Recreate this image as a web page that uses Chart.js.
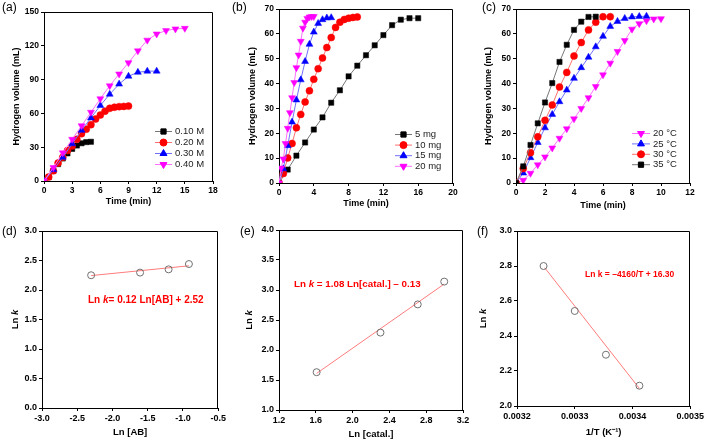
<!DOCTYPE html>
<html>
<head>
<meta charset="utf-8">
<script src="https://cdn.jsdelivr.net/npm/chart.js@4.4.1/dist/chart.umd.min.js"></script>
<style>
  body { margin: 0; background: #fff; }
  #fig { position: relative; width: 706px; height: 442px; overflow: hidden; }
  #fig canvas { position: absolute; }
</style>
</head>
<body>
<div id="fig">
  <canvas id="ca" width="228" height="212" style="left:0;top:0"></canvas>
  <canvas id="cb" width="232" height="212" style="left:230px;top:0"></canvas>
  <canvas id="cc" width="244" height="212" style="left:462px;top:0"></canvas>
  <canvas id="cd" width="228" height="227" style="left:0;top:215px"></canvas>
  <canvas id="ce" width="242" height="227" style="left:230px;top:215px"></canvas>
  <canvas id="cf" width="244" height="227" style="left:462px;top:215px"></canvas>
</div>
<script>
// (a) effect of AB concentration
const timeA1 = [0, 0.5, 1, 1.5, 2, 2.5, 3, 3.5, 4, 4.5, 5];
const volA1 = [0, 3.5, 9, 15, 20, 24.5, 28.5, 31.5, 33.5, 34.5, 34.8];
const timeA2 = [0, 0.5, 1, 1.5, 2, 2.5, 3, 3.5, 4, 4.5, 5, 5.5, 6, 6.5, 7, 7.5, 8, 8.5, 9];
const volA2 = [0, 3.5, 9, 16, 21, 27, 31, 37, 42, 46, 50, 55, 58.5, 62, 64.5, 65.5, 66, 66.2, 66.5];
const timeA3 = [0, 1, 2, 3, 4, 5, 6, 7, 8, 9, 10, 11, 12];
const volA3 = [0, 10, 21, 33, 45, 56, 67, 77, 86, 93, 96.5, 97.5, 97.5];
const timeA4 = [0, 1, 2, 3, 4, 5, 6, 7, 8, 9, 10, 11, 12, 13, 14, 15];
const volA4 = [0, 12, 25, 37, 49, 61, 73, 84.5, 95, 105, 115.5, 125, 130.5, 133.5, 135, 135.5];
const labelsA = ['0.10 M', '0.20 M', '0.30 M', '0.40 M'];

// (b) effect of catalyst amount
const timeB1 = [0, 1, 2, 3, 4, 5, 6, 7, 8, 9, 10, 11, 12, 13, 14, 15, 16];
const volB1 = [0, 5.4, 11, 16.3, 21.5, 26.4, 32.3, 37.3, 42.9, 47.2, 51.4, 55.4, 59.5, 63.5, 65.7, 66.3, 66.3];
const timeB2 = [0, 0.5, 1, 1.5, 2, 2.5, 3, 3.5, 4, 4.5, 5, 5.5, 6, 6.5, 7, 7.5, 8, 8.5, 9];
const volB2 = [0, 3.8, 10.1, 15.9, 22.2, 27.6, 32.6, 37.1, 41.7, 46, 50.3, 54.5, 58.5, 62.6, 64.7, 65.8, 66.3, 66.6, 66.8];
const timeB3 = [0, 0.5, 1, 1.5, 2, 2.5, 3, 3.5, 4, 4.5, 5, 5.5, 6];
const volB3 = [0, 5.7, 15, 24.5, 33.4, 41.5, 48.9, 55.8, 60.7, 64.2, 65.7, 66.4, 66.5];
const timeB4 = [0, 0.25, 0.5, 0.75, 1, 1.25, 1.5, 1.75, 2, 2.25, 2.5, 2.75, 3, 3.25, 3.5, 3.75, 4];
const volB4 = [0, 6, 9.7, 15.9, 22, 28.3, 34.3, 40.4, 46.4, 51.5, 57, 62.3, 64.7, 66.2, 66.8, 67, 67];
const labelsB = ['5 mg', '10 mg', '15 mg', '20 mg'];

// (c) effect of temperature
const timeC1 = [0, 0.5, 1, 1.5, 2, 2.5, 3, 3.5, 4, 4.5, 5, 5.5, 6, 6.5, 7, 7.5, 8, 8.5, 9, 9.5, 10];
const volC1 = [0, 1.1, 3.9, 7.3, 10.5, 14.1, 18, 21.8, 25.8, 30, 34.3, 38.8, 43.5, 48.2, 52.9, 57.3, 61.9, 64.1, 65.3, 66, 66.1];
const timeC2 = [0, 0.5, 1, 1.5, 2, 2.5, 3, 3.5, 4, 4.5, 5, 5.5, 6, 6.5, 7, 7.5, 8, 8.5, 9];
const volC2 = [0, 4, 10.2, 16.3, 22.2, 27.6, 32.7, 37.4, 42.1, 46.4, 50.6, 54.8, 59, 63, 65, 66.2, 66.8, 67, 67.1];
const timeC3 = [0, 0.5, 1, 1.5, 2, 2.5, 3, 3.5, 4, 4.5, 5, 5.5, 6, 6.5];
const volC3 = [0, 5.8, 12.2, 18.6, 25.2, 31.4, 38.6, 44.5, 51.1, 56.5, 61.6, 64.7, 66.9, 66.9];
const timeC4 = [0, 0.5, 1, 1.5, 2, 2.5, 3, 3.5, 4, 4.5, 5, 5.5];
const volC4 = [0, 6.7, 15.3, 24, 32.4, 40.2, 48.7, 55.6, 61.6, 64.9, 66.8, 66.9];
const labelsC = ['20 \u00B0C', '25 \u00B0C', '30 \u00B0C', '35 \u00B0C'];

// (d)-(f) kinetics
const lnAB = [-2.303, -1.609, -1.204, -0.916];
const lnkD = [2.25, 2.295, 2.35, 2.44];
const fitDx = [-2.303, -0.916];
const fitDy = [2.244, 2.41];
const lnCat = [1.609, 2.303, 2.708, 2.996];
const lnkE = [1.63, 2.29, 2.76, 3.14];
const fitEx = [1.609, 2.996];
const fitEy = [1.61, 3.10];
const invT = [0.003246, 0.0033, 0.003354, 0.003412];
const lnkF = [2.80, 2.543, 2.293, 2.116];
const fitFx = [0.003248, 0.003412];
const fitFy = [2.79, 2.10];

const FONT = 'Arial, "Liberation Sans", sans-serif';
const BLACK = '#000', RED = '#ff0000', BLUE = '#0000ff', MAG = '#ff00ff';
const LINES = { [BLACK]: '#777777', [RED]: '#ff7070', [BLUE]: '#7070ff', [MAG]: '#ff70ff' };
const RADIUS = { rect: 3.7, circle: 3.5, triangle: 4 };

function pts(xs, ys) {
  return xs.map((x, i) => ({ x: x, y: ys[i] }));
}

function series(label, xs, ys, color, style, rot, order) {
  return {
    label: label,
    data: pts(xs, ys),
    showLine: true,
    borderColor: LINES[color],
    borderWidth: 1,
    pointStyle: style,
    rotation: rot || 0,
    pointRadius: RADIUS[style],
    pointBackgroundColor: color,
    pointBorderColor: color,
    pointBorderWidth: 0.5,
    order: order
  };
}

function axis(min, max, step, digits, tickSize, fit, horiz, title, titleSize, titlePad) {
  return {
    type: 'linear',
    min: min,
    max: max,
    ticks: {
      stepSize: step,
      color: '#000',
      font: { size: tickSize, weight: 'bold', family: FONT },
      padding: 2,
      maxRotation: 0,
      autoSkip: false,
      callback: v => v.toFixed(digits)
    },
    grid: { drawOnChartArea: false, drawTicks: true, tickLength: 3, tickColor: '#000', color: '#000' },
    border: { display: true, color: '#000', width: 1 },
    title: title ? {
      display: true, text: title, color: '#000',
      font: { size: titleSize, weight: 'bold', family: FONT },
      padding: titlePad
    } : { display: false },
    afterFit: s => { if (horiz) s.height = fit; else s.width = fit; }
  };
}

// draws text made of plain / italic pieces
function drawRich(ctx, parts, x, y, size, color, align, rot) {
  ctx.save();
  ctx.translate(x, y);
  if (rot) ctx.rotate(rot);
  ctx.fillStyle = color;
  ctx.textBaseline = 'middle';
  ctx.textAlign = 'left';
  let total = 0;
  parts.forEach(p => {
    ctx.font = (p[1] ? 'italic ' : '') + 'bold ' + size + 'px ' + FONT;
    total += ctx.measureText(p[0]).width;
  });
  let cx = align === 'center' ? -total / 2 : 0;
  parts.forEach(p => {
    ctx.font = (p[1] ? 'italic ' : '') + 'bold ' + size + 'px ' + FONT;
    ctx.fillText(p[0], cx, 0);
    cx += ctx.measureText(p[0]).width;
  });
  ctx.restore();
}

const extras = {
  id: 'extras',
  afterDraw(chart) {
    const ctx = chart.ctx;
    const o = chart.options.plugins.extras;
    const a = chart.chartArea;
    // top and right frame
    ctx.save();
    ctx.strokeStyle = '#000';
    ctx.lineWidth = 1;
    ctx.beginPath();
    ctx.moveTo(Math.round(a.left) + 0.5, Math.round(a.top) + 0.5);
    ctx.lineTo(Math.round(a.right) - 0.5, Math.round(a.top) + 0.5);
    ctx.lineTo(Math.round(a.right) - 0.5, Math.round(a.bottom));
    ctx.stroke();
    ctx.restore();
    // panel letter
    ctx.save();
    ctx.fillStyle = '#000';
    ctx.font = '12px ' + FONT;
    ctx.textBaseline = 'middle';
    ctx.fillText(o.tag[0], o.tag[1], o.tag[2]);
    ctx.restore();
    if (o.ytitle) drawRich(ctx, o.ytitle.parts, o.ytitle.x, (a.top + a.bottom) / 2, o.ytitle.size, '#000', 'center', -Math.PI / 2);
    if (o.eq) drawRich(ctx, o.eq.parts, o.eq.x, o.eq.y, o.eq.size, RED, 'left', 0);
    if (o.legend) {
      const L = o.legend;
      chart.data.datasets.forEach((ds, i) => {
        const y = L.y + i * L.dy;
        ctx.save();
        ctx.strokeStyle = ds.borderColor;
        ctx.lineWidth = 1;
        ctx.beginPath();
        ctx.moveTo(L.x, y + 0.5);
        ctx.lineTo(L.x + L.len, y + 0.5);
        ctx.stroke();
        ctx.fillStyle = ds.pointBackgroundColor;
        ctx.strokeStyle = ds.pointBorderColor;
        Chart.helpers.drawPoint(ctx, {
          pointStyle: ds.pointStyle, radius: ds.pointRadius,
          rotation: ds.rotation, borderWidth: 0.5
        }, L.x + L.len / 2, y + 0.5);
        ctx.fillStyle = '#222';
        ctx.font = L.size + 'px ' + FONT;
        ctx.textBaseline = 'middle';
        ctx.fillText(ds.label, L.x + L.len + 3, y + 0.5);
        ctx.restore();
      });
    }
  }
};

function makeChart(id, datasets, xAxis, yAxis, pad, extra) {
  return new Chart(document.getElementById(id), {
    type: 'scatter',
    data: { datasets: datasets },
    options: {
      responsive: false,
      animation: false,
      devicePixelRatio: 1,
      layout: { padding: pad },
      scales: { x: xAxis, y: yAxis },
      plugins: { legend: { display: false }, tooltip: { enabled: false }, extras: extra }
    },
    plugins: [extras]
  });
}

// (a)
makeChart('ca', [
  series(labelsA[0], timeA1, volA1, BLACK, 'rect', 0, 4),
  series(labelsA[1], timeA2, volA2, RED, 'circle', 0, 3),
  series(labelsA[2], timeA3, volA3, BLUE, 'triangle', 0, 2),
  series(labelsA[3], timeA4, volA4, MAG, 'triangle', 180, 1)
],
  axis(0, 18, 3, 0, 8.5, 31, true, 'Time (min)', 9, { top: 0, bottom: 4.6 }),
  axis(0, 150, 30, 0, 8.5, 44, false, 'Hydrogen volume (mL)', 9, { top: 11.6, bottom: 0 }),
  { top: 12, right: 15, left: 0, bottom: 0 },
  { tag: ['(a)', 2, 8], legend: { x: 155, y: 131, dy: 11, len: 17, size: 9.5 } });

// (b)
makeChart('cb', [
  series(labelsB[0], timeB1, volB1, BLACK, 'rect', 0, 4),
  series(labelsB[1], timeB2, volB2, RED, 'circle', 0, 3),
  series(labelsB[2], timeB3, volB3, BLUE, 'triangle', 0, 2),
  series(labelsB[3], timeB4, volB4, MAG, 'triangle', 180, 1)
],
  axis(0, 20, 4, 0, 8.5, 29, true, 'Time (min)', 9, { top: 0, bottom: 2.6 }),
  axis(0, 70, 10, 0, 8.5, 49, false, 'Hydrogen volume (mL)', 9, { top: 17, bottom: 0 }),
  { top: 9, right: 9, left: 0, bottom: 0 },
  { tag: ['(b)', 2, 8], legend: { x: 165, y: 134, dy: 10.6, len: 17, size: 9.5 } });

// (c)
makeChart('cc', [
  series(labelsC[0], timeC1, volC1, MAG, 'triangle', 180, 4),
  series(labelsC[1], timeC2, volC2, BLUE, 'triangle', 0, 3),
  series(labelsC[2], timeC3, volC3, RED, 'circle', 0, 2),
  series(labelsC[3], timeC4, volC4, BLACK, 'rect', 0, 1)
],
  axis(0, 12, 2, 0, 8.5, 29, true, 'Time (min)', 9, { top: 0, bottom: 1 }),
  axis(0, 70, 10, 0, 8.5, 54, false, 'Hydrogen volume (mL)', 9, { top: 21.6, bottom: 0 }),
  { top: 9, right: 16, left: 0, bottom: 0 },
  { tag: ['(c)', 20, 8], legend: { x: 170, y: 133, dy: 10.4, len: 18, size: 9.5 } });

function kinetic(xs, ys, fx, fy) {
  return [
    {
      label: 'data', data: pts(xs, ys), pointStyle: 'circle', pointRadius: 3.5,
      pointBackgroundColor: 'rgba(255,255,255,0)', pointBorderColor: '#707070', pointBorderWidth: 1,
      showLine: false, order: 1
    },
    {
      label: 'fit', data: pts(fx, fy), showLine: true, borderColor: '#ff7b7b', borderWidth: 1,
      pointRadius: 0, order: 2
    }
  ];
}

// (d)
makeChart('cd', kinetic(lnAB, lnkD, fitDx, fitDy),
  axis(-3, -0.5, 0.5, 1, 9, 34, true, 'Ln [AB]', 9.5, { top: 0, bottom: 3.8 }),
  axis(0, 3, 0.5, 1, 9, 42, false, null),
  { top: 16, right: 9, left: 0, bottom: 0 },
  {
    tag: ['(d)', 2, 17],
    ytitle: { parts: [['Ln ', false], ['k', true]], x: 15, size: 9.5 },
    eq: { parts: [['Ln ', false], ['k', true], ['= 0.12 Ln[AB] + 2.52', false]], x: 88, y: 85, size: 10 }
  });

// (e)
makeChart('ce', kinetic(lnCat, lnkE, fitEx, fitEy),
  axis(1.2, 3.2, 0.4, 1, 9, 32, true, 'Ln [catal.]', 9.5, { top: 0, bottom: 2.3 }),
  axis(1, 4, 0.5, 1, 9, 49, false, null),
  { top: 15, right: 9, left: 0, bottom: 0 },
  {
    tag: ['(e)', 10, 17],
    ytitle: { parts: [['Ln ', false], ['k', true]], x: 19.5, size: 9.5 },
    eq: { parts: [['Ln ', false], ['k', true], [' = 1.08 Ln[catal.] \u2013 0.13', false]], x: 64, y: 69, size: 9.8 }
  });

// (f)
makeChart('cf', kinetic(invT, lnkF, fitFx, fitFy),
  axis(0.0032, 0.0035, 0.0001, 4, 9, 36, true, '1/T (K\u207B\u00B9)', 9.5, { top: 0, bottom: 4.3 }),
  axis(2, 3, 0.2, 1, 9, 55, false, null),
  { top: 16, right: 15, left: 0, bottom: 0 },
  {
    tag: ['(f)', 15, 17],
    ytitle: { parts: [['Ln ', false], ['k', true]], x: 21.7, size: 9.5 },
    eq: { parts: [['Ln k = \u20134160/T + 16.30', false]], x: 123, y: 60, size: 8.5 }
  });
</script>
</body>
</html>
